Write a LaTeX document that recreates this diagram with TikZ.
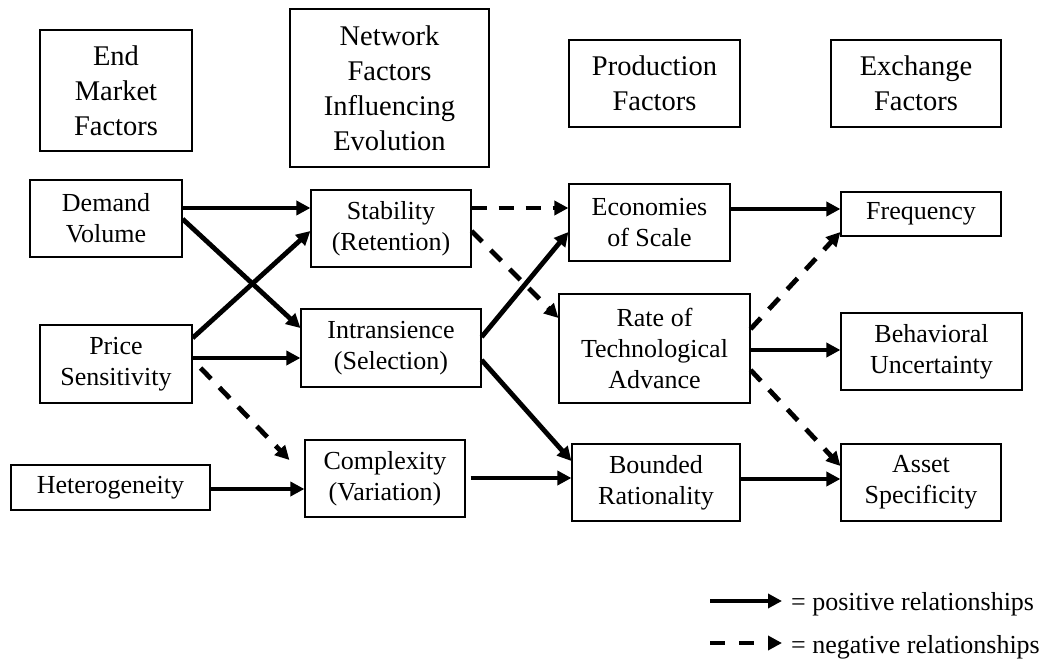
\documentclass[tikz,border=0pt]{standalone}
\usepackage{fontspec}
\setmainfont{Liberation Serif}
\usetikzlibrary{arrows.meta,calc}

\begin{document}
\begin{tikzpicture}[x=1pt,y=-1pt,
  box/.style={draw,line width=1.2pt,inner sep=0pt,align=center,
    font=\fontsize{26}{31}\selectfont},
  head/.style={box,font=\fontsize{28.5}{35}\selectfont},
  posarrow/.style={line width=4.8pt,-{Triangle[length=14pt,width=14pt]}},
  negarrow/.style={posarrow,dash pattern=on 15pt off 12pt},
  legendtext/.style={anchor=base west,inner sep=0pt,font=\fontsize{26}{31}\selectfont},
]
\useasboundingbox (0,0) rectangle (1052,663);

% column headings
\node[head,minimum width=152pt,minimum height=121pt] (endm) at (116,90.5) {End\\Market\\Factors};
\node[head,minimum width=199pt,minimum height=158pt] (netw) at (389.5,88) {Network\\Factors\\Influencing\\Evolution};
\node[head,minimum width=171pt,minimum height=87pt] (prod) at (654.5,83.5) {Production\\Factors};
\node[head,minimum width=170pt,minimum height=87pt] (exch) at (916,83.5) {Exchange\\Factors};

% end market factors
\node[box,minimum width=152pt,minimum height=77pt] (demand) at (106,218.5) {Demand\\Volume};
\node[box,minimum width=152pt,minimum height=78pt] (price) at (116,364) {Price\\Sensitivity};
\node[box,minimum width=199pt,minimum height=45pt] (hetero) at (110.5,487.5) {Heterogeneity};

% network factors
\node[box,minimum width=160pt,minimum height=77pt] (stab) at (391,228.5) {Stability\\(Retention)};
\node[box,minimum width=180pt,minimum height=78pt] (intr) at (391,348) {Intransience\\(Selection)};
\node[box,minimum width=160pt,minimum height=77pt] (compl) at (385,478.5) {Complexity\\(Variation)};

% production factors
\node[box,minimum width=161pt,minimum height=77pt] (econ) at (649.5,222.5) {Economies\\of Scale};
\node[box,minimum width=191pt,minimum height=109pt] (rate) at (654.5,348.5) {Rate of\\Technological\\Advance};
\node[box,minimum width=168pt,minimum height=77pt] (bound) at (656,482.5) {Bounded\\Rationality};

% exchange factors
\node[box,minimum width=160pt,minimum height=44pt] (freq) at (921,214) {Frequency};
\node[box,minimum width=181pt,minimum height=77pt] (behav) at (931.5,351.5) {Behavioral\\Uncertainty};
\node[box,minimum width=160pt,minimum height=77pt] (asset) at (921,482.5) {Asset\\Specificity};

% relationships
\draw[posarrow] ($(demand.east)+(0,-10.5)$) -- ($(stab.west)+(0,-20.5)$);
\draw[posarrow] ($(demand.east)+(0,0.5)$) -- ($(intr.west)+(0,-20)$);
\draw[posarrow] ($(price.east)+(0,-26)$) -- ($(stab.west)+(0,2.5)$);
\draw[posarrow] ($(price.east)+(0,-6)$) -- ($(intr.west)+(0,10)$);
\draw[negarrow] ($(price.east)+(8,4)$) -- ($(compl.west)+(-15,-18.5)$);
\draw[posarrow] ($(hetero.east)+(0,1.5)$) -- ($(compl.west)+(0,10.5)$);

\draw[negarrow] ($(stab.east)+(0,-20.5)$) -- ($(econ.west)+(0,-14.5)$);
\draw[negarrow] ($(stab.east)+(0,2.5)$) -- ($(rate.west)+(0,-30.5)$);
\draw[posarrow] ($(intr.east)+(0,-11)$) -- ($(econ.west)+(0,9.5)$);
\draw[posarrow] ($(intr.east)+(0,12)$) -- ($(bound.west)+(0,-21.5)$);
\draw[posarrow] ($(compl.east)+(5,-0.5)$) -- ($(bound.west)+(0,-4.5)$);

\draw[posarrow] ($(econ.east)+(0,-13.5)$) -- ($(freq.west)+(0,-5)$);
\draw[negarrow] ($(rate.east)+(0,-19.5)$) -- ($(freq.west)+(0,18)$);
\draw[posarrow] ($(rate.east)+(0,1.5)$) -- ($(behav.west)+(0,-1.5)$);
\draw[negarrow] ($(rate.east)+(0,21.5)$) -- ($(asset.west)+(0,-16.5)$);
\draw[posarrow] ($(bound.east)+(0,-3.5)$) -- ($(asset.west)+(0,-3.5)$);

% legend
\coordinate (posA) at (710,601);
\coordinate (posB) at (782,601);
\coordinate (negA) at (710,643);
\coordinate (negB) at (782,643);
\draw[posarrow] (posA) -- (posB);
\draw[negarrow,dash pattern=on 15pt off 14pt] (negA) -- (negB);
\node[legendtext] (posT) at (791,610) {= positive relationships};
\node[legendtext] (negT) at (791,653) {= negative relationships};
\end{tikzpicture}
\end{document}
